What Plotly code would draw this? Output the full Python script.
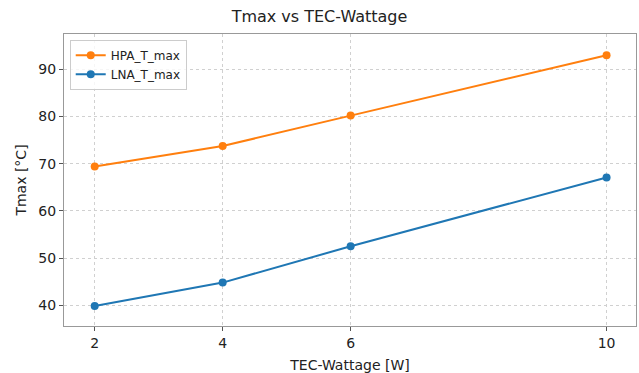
import plotly.graph_objects as go

tec_wattage = [2, 4, 6, 10]
hpa_t_max = [69.4, 73.75, 80.2, 93.0]
lna_t_max = [39.85, 44.8, 52.5, 67.1]
x_ticks = [2, 4, 6, 10]
y_ticks = [40, 50, 60, 70, 80, 90]

FONT = "DejaVu Sans"
fig = go.Figure()
fig.add_trace(go.Scatter(x=tec_wattage, y=hpa_t_max, mode="lines+markers", name="HPA_T_max",
                         line=dict(color="#ff7f0e", width=2), marker=dict(size=8, color="#ff7f0e")))
fig.add_trace(go.Scatter(x=tec_wattage, y=lna_t_max, mode="lines+markers", name="LNA_T_max",
                         line=dict(color="#1f77b4", width=2), marker=dict(size=8, color="#1f77b4")))

axis_common = dict(showgrid=True, gridcolor="#d0d0d0", griddash="dot", gridwidth=1,
                   showline=True, linecolor="#999999", linewidth=1, mirror=True,
                   ticks="outside", ticklen=4, tickcolor="#555555", zeroline=False,
                   automargin=False,
                   tickfont=dict(family=FONT, size=14, color="#222222"))
fig.update_xaxes(range=[1.52, 10.46], tickvals=x_ticks, ticktext=[str(v) for v in x_ticks],
                 title=dict(text="TEC-Wattage [W]", font=dict(family=FONT, size=14, color="#222222"), standoff=10),
                 **axis_common)
fig.update_yaxes(range=[35.6, 97.5], tickvals=y_ticks,
                 title=dict(text="Tmax [°C]", font=dict(family=FONT, size=14, color="#222222"), standoff=8),
                 **axis_common)
fig.update_layout(
    width=639, height=373,
    margin=dict(l=64, r=3, t=34, b=47),
    paper_bgcolor="white", plot_bgcolor="white",
    title=dict(text="Tmax vs TEC-Wattage", x=0.5, xanchor="center", y=0.955, yanchor="middle",
               font=dict(family=FONT, size=16, color="#222222")),
    legend=dict(x=0.01, y=0.98, xanchor="left", yanchor="top", bgcolor="rgba(255,255,255,0.8)",
                bordercolor="#cccccc", borderwidth=1, font=dict(family=FONT, size=12, color="#222222"),
                tracegroupgap=0),
    showlegend=True,
)
fig.write_html("out.html", config={"displayModeBar": False},
               post_script="document.body.style.margin='0';document.body.style.padding='0';")
